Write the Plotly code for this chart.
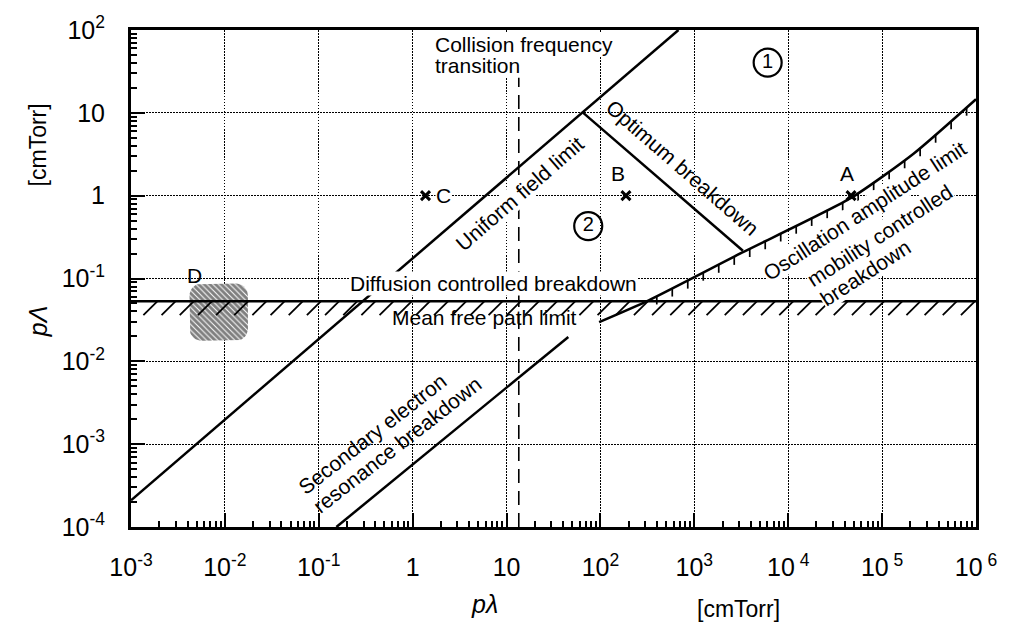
import numpy as np
import plotly.graph_objects as go

# ---------------- data (all values in cm·Torr) ----------------
# Uniform field limit
uniform_x = [1e-3, 678.0]
uniform_y = [2.1e-4, 100.0]
# Optimum breakdown
optimum_x = [65.6, 3290.0]
optimum_y = [10.0, 0.216]
# Oscillation amplitude limit (curved boundary)
oscill_x = [96.8, 327.0, 3210.0, 46700.0, 216000.0, 1.0e6]
oscill_y = [0.0298, 0.0546, 0.205, 0.94, 3.21, 14.6]
# Secondary electron resonance breakdown
secondary_x = [0.154, 45.5]
secondary_y = [1e-4, 0.0197]
# Collision frequency transition
collision_x = [13.5, 13.5]
collision_y = [1e-4, 26.7]
# Mean free path limit
mfp_level = 0.053
# Region D
region_d_x = [0.0042, 0.0176]
region_d_y = [0.0177, 0.087]
# Operating points
point_names = ["A", "B", "C"]
point_x = [46700.0, 187.0, 1.37]
point_y = [1.0, 1.0, 1.0]
# Region markers
region_ids = ["1", "2"]
region_x = [6040.0, 74.1]
region_y = [40.4, 0.43]

# Axes
x_range_log = [-3, 6]
y_range_log = [-4, 2]
x_tickvals = [1e-3, 1e-2, 1e-1, 1, 10, 1e2, 1e3, 1e4, 1e5, 1e6]
x_ticktext = ["10<sup>-3</sup>", "10<sup>-2</sup>", "10<sup>-1</sup>", "1", "10",
              "10<sup>2</sup>", "10<sup>3</sup>", "10<sup> 4</sup>", "10<sup> 5</sup>", "10<sup> 6</sup>"]
y_tickvals = [1e-4, 1e-3, 1e-2, 1e-1, 1, 10, 1e2]
y_ticktext = ["10<sup>-4</sup>", "10<sup>-3</sup>", "10<sup>-2</sup>", "10<sup>-1</sup>",
              "1", "10", "10<sup>2</sup>"]

FONT = "Liberation Sans, Arial, Helvetica, sans-serif"
INK = "black"

fig = go.Figure()

# ---- region D: hatched rounded box ----
lx0, lx1 = np.log10(region_d_x)
ly0, ly1 = np.log10(region_d_y)
rx, ry = 0.13, 0.145
pts = []
for cx, cy, a0 in [(lx1 - rx, ly1 - ry, 0), (lx0 + rx, ly1 - ry, 90),
                   (lx0 + rx, ly0 + ry, 180), (lx1 - rx, ly0 + ry, 270)]:
    t = np.radians(np.linspace(a0, a0 + 90, 10))
    pts += list(zip(cx + rx * np.cos(t), cy + ry * np.sin(t)))
pts.append(pts[0])
dx = [10 ** p[0] for p in pts]
dy = [10 ** p[1] for p in pts]
fig.add_trace(go.Scatter(
    x=dx, y=dy, mode="lines", fill="toself", line=dict(width=0, color=INK),
    fillcolor="white",
    fillpattern=dict(shape="\\", size=4, solidity=0.75, fgcolor=INK, bgcolor="white"),
    hoverinfo="skip"))

# ---- mean free path limit with hatching ----
fig.add_trace(go.Scatter(x=[10 ** x_range_log[0], 10 ** x_range_log[1]], y=[mfp_level, mfp_level],
                         mode="lines", line=dict(color=INK, width=2.5), hoverinfo="skip"))
hx, hy = [], []
for s in np.arange(-2.72, 6.0, 0.1935):
    hx += [10 ** s, 10 ** (s - 0.148), None]
    hy += [mfp_level, mfp_level * 10 ** (-0.167), None]
fig.add_trace(go.Scatter(x=hx, y=hy, mode="lines", line=dict(color=INK, width=1.8),
                         hoverinfo="skip"))

# ---- boundary lines ----
for xs, ys in [(uniform_x, uniform_y), (optimum_x, optimum_y), (secondary_x, secondary_y)]:
    fig.add_trace(go.Scatter(x=xs, y=ys, mode="lines", line=dict(color=INK, width=2.5),
                             hoverinfo="skip"))

fig.add_trace(go.Scatter(x=oscill_x, y=oscill_y, mode="lines",
                         line=dict(color=INK, width=2.5, shape="spline", smoothing=0.6),
                         hoverinfo="skip"))

# short strokes hanging below the oscillation amplitude limit
lox, loy = np.log10(oscill_x), np.log10(oscill_y)
tx, ty = [], []
for s in np.arange(2.6, 5.95, 0.165):
    yl = np.interp(s, lox, loy)
    tx += [10 ** s, 10 ** s, None]
    ty += [10 ** yl, 10 ** (yl - 0.1), None]
fig.add_trace(go.Scatter(x=tx, y=ty, mode="lines", line=dict(color=INK, width=1.7),
                         hoverinfo="skip"))

# collision frequency transition (dashed)
fig.add_trace(go.Scatter(x=collision_x, y=collision_y, mode="lines",
                         line=dict(color=INK, width=1.6, dash="14px,8px"), hoverinfo="skip"))

# operating points
fig.add_trace(go.Scatter(x=point_x, y=point_y, mode="markers",
                         marker=dict(symbol="x-thin", size=9, color=INK,
                                     line=dict(width=3, color=INK)),
                         hoverinfo="skip"))

# circled region numbers
fig.add_trace(go.Scatter(x=region_x, y=region_y, mode="markers+text", text=region_ids,
                         textposition="middle center",
                         textfont=dict(family=FONT, size=20, color=INK),
                         marker=dict(symbol="circle-open", size=28, color=INK,
                                     line=dict(width=2.2, color=INK)),
                         hoverinfo="skip"))

# ---- text labels ----
def note(text, lx, ly, angle=0, size=21, bg=None, align="center", xanchor="center"):
    fig.add_annotation(x=lx, y=ly, xref="x", yref="y", text=text, showarrow=False,
                       textangle=angle, font=dict(family=FONT, size=size, color=INK),
                       bgcolor=bg, borderpad=0, align=align, xanchor=xanchor)

note("Collision frequency", 0.222, 1.821, bg="white", xanchor="left")
note("transition", 0.222, 1.570, bg="white", xanchor="left")
note("Uniform field limit", 1.141, 0.028, angle=-41, bg="white")
note("Optimum breakdown", 2.875, 0.345, angle=41)
note("Oscillation amplitude limit", 4.817, -0.175, angle=-33, bg="white")
note("mobility controlled", 4.975, -0.486, angle=-33, bg="white")
note("breakdown", 4.827, -0.928, angle=-33, bg="white")
note("Diffusion controlled breakdown", 0.866, -1.060, bg="white")
note("Mean free path limit", 0.760, -1.466)
note("Secondary electron", -0.424, -2.876, angle=-38)
note("resonance breakdown", -0.160, -3.008, angle=-38)
note("A", 4.627, 0.267)
note("B", 2.186, 0.267)
note("C", 0.327, 0.0, bg="white")
note("D", -2.324, -0.964)

# axis titles
def paper_note(text, px, py, angle=0, size=24):
    fig.add_annotation(x=px, y=py, xref="paper", yref="paper", text=text, showarrow=False,
                       textangle=angle, font=dict(family=FONT, size=size, color=INK))

paper_note("<i>pλ</i>", 0.418, -0.187, size=25)
paper_note("[cmTorr]", 0.771, -0.195, size=23)
paper_note("<i>pΛ</i>", -0.129, 0.414, angle=-90, size=25)
paper_note("[cmTorr]", -0.128, 0.857, angle=-90, size=23)

minor_x = [m * 10.0 ** k for k in range(-3, 6) for m in range(2, 10)]
minor_y = [m * 10.0 ** k for k in range(-4, 2) for m in range(2, 10)]

axis_common = dict(
    type="log", ticks="inside", ticklen=14, tickwidth=2, tickcolor=INK,
    showline=True, linewidth=3, linecolor=INK, mirror=True,
    showgrid=True, gridcolor="#000", gridwidth=1.3, griddash="1.5px,1.5px",
    zeroline=False, tickfont=dict(family=FONT, size=25, color=INK),
)

fig.update_xaxes(range=x_range_log, tickmode="array", tickvals=x_tickvals, ticktext=x_ticktext,
                 ticklabelstandoff=16,
                 minor=dict(tickmode="array", tickvals=minor_x, ticks="inside", ticklen=6,
                            tickwidth=1.5, tickcolor=INK, showgrid=False),
                 **axis_common)
fig.update_yaxes(range=y_range_log, tickmode="array", tickvals=y_tickvals, ticktext=y_ticktext,
                 ticklabelstandoff=18,
                 minor=dict(tickmode="array", tickvals=minor_y, ticks="inside", ticklen=6,
                            tickwidth=1.5, tickcolor=INK, showgrid=False),
                 **axis_common)

fig.update_layout(width=1009, height=644, margin=dict(l=131, r=26, t=25, b=117),
                  paper_bgcolor="white", plot_bgcolor="white", showlegend=False,
                  font=dict(family=FONT, color=INK))

fig.write_html("out.html")
